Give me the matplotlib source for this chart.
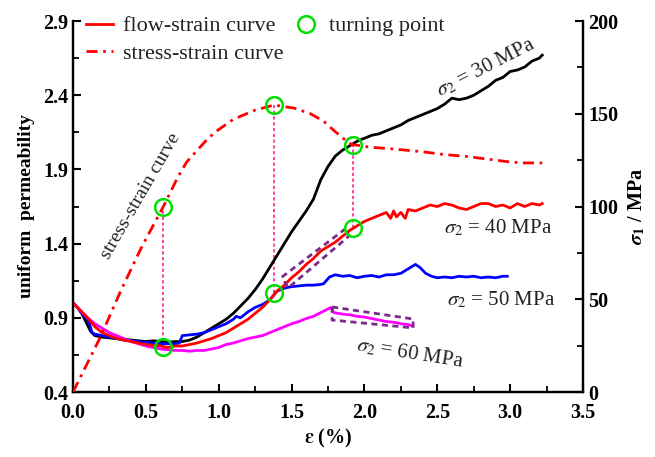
import matplotlib
matplotlib.use("Agg")
import matplotlib.pyplot as plt
from matplotlib.lines import Line2D
from matplotlib.ticker import MultipleLocator, FixedLocator, FormatStrFormatter

plt.rcParams['font.family'] = ['Liberation Serif', 'DejaVu Serif']
plt.rcParams['mathtext.fontset'] = 'stix'

# ---------------- data ----------------
x30 = [0, 0.03, 0.06, 0.09, 0.12, 0.15, 0.2, 0.25, 0.3, 0.35, 0.4, 0.45, 0.5, 0.55, 0.6, 0.65, 0.7,
       0.75, 0.8, 0.85, 0.9, 0.95, 1.0, 1.05, 1.1, 1.15, 1.2, 1.25, 1.3, 1.35, 1.4, 1.45, 1.5, 1.55,
       1.6, 1.65, 1.7, 1.75, 1.8, 1.85, 1.9, 1.95, 2.0, 2.05, 2.1, 2.15, 2.2, 2.25, 2.3, 2.35, 2.4,
       2.45, 2.5, 2.55, 2.6, 2.65, 2.7, 2.75, 2.8, 2.85, 2.9, 2.95, 3.0, 3.05, 3.1, 3.15, 3.2, 3.22]
y30 = [1.0, 0.97, 0.93, 0.87, 0.81, 0.78, 0.77, 0.765, 0.76, 0.755, 0.75, 0.745, 0.74, 0.745, 0.74,
       0.735, 0.74, 0.74, 0.75, 0.77, 0.80, 0.83, 0.86, 0.89, 0.93, 0.98, 1.03, 1.09, 1.16, 1.24,
       1.32, 1.40, 1.48, 1.55, 1.62, 1.70, 1.83, 1.92, 1.99, 2.03, 2.06, 2.09, 2.11, 2.13, 2.14,
       2.16, 2.18, 2.20, 2.23, 2.25, 2.27, 2.29, 2.31, 2.34, 2.38, 2.37, 2.38, 2.40, 2.43, 2.46,
       2.50, 2.52, 2.56, 2.57, 2.59, 2.63, 2.65, 2.67]

x40 = [0, 0.05, 0.1, 0.15, 0.2, 0.25, 0.3, 0.35, 0.4, 0.45, 0.5, 0.55, 0.6, 0.65, 0.7, 0.75, 0.8,
       0.85, 0.9, 0.95, 1.0, 1.05, 1.1, 1.15, 1.2, 1.25, 1.3, 1.35, 1.4, 1.45, 1.5, 1.55, 1.6, 1.65,
       1.7, 1.75, 1.8, 1.85, 1.9, 1.95, 2.0, 2.05, 2.1, 2.15, 2.18, 2.2, 2.22, 2.25, 2.28, 2.3, 2.35,
       2.4, 2.45, 2.5, 2.55, 2.6, 2.65, 2.7, 2.75, 2.8, 2.85, 2.9, 2.95, 3.0, 3.05, 3.1, 3.15, 3.2, 3.22]
y40 = [1.0, 0.95, 0.90, 0.84, 0.80, 0.78, 0.76, 0.75, 0.74, 0.73, 0.72, 0.715, 0.71, 0.70, 0.71,
       0.71, 0.72, 0.73, 0.745, 0.76, 0.78, 0.80, 0.83, 0.86, 0.89, 0.93, 0.97, 1.02, 1.08, 1.12,
       1.17, 1.21, 1.26, 1.30, 1.35, 1.38, 1.41, 1.45, 1.49, 1.52, 1.55, 1.57, 1.59, 1.61, 1.57,
       1.62, 1.58, 1.61, 1.57, 1.63, 1.62, 1.64, 1.66, 1.65, 1.67, 1.66, 1.64, 1.63, 1.65, 1.67,
       1.67, 1.65, 1.66, 1.64, 1.67, 1.65, 1.67, 1.66, 1.67]

x50 = [0, 0.03, 0.06, 0.09, 0.11, 0.13, 0.15, 0.2, 0.25, 0.3, 0.35, 0.4, 0.45, 0.5, 0.55, 0.6, 0.65,
       0.7, 0.73, 0.75, 0.8, 0.85, 0.9, 0.95, 1.0, 1.05, 1.1, 1.12, 1.15, 1.2, 1.25, 1.3, 1.35, 1.4,
       1.45, 1.5, 1.55, 1.6, 1.65, 1.7, 1.72, 1.76, 1.8, 1.85, 1.9, 1.95, 2.0, 2.05, 2.1, 2.15, 2.2,
       2.25, 2.3, 2.35, 2.38, 2.42, 2.46, 2.5, 2.55, 2.6, 2.65, 2.7, 2.75, 2.8, 2.85, 2.9, 2.95, 2.98]
y50 = [1.0, 0.97, 0.93, 0.90, 0.87, 0.80, 0.79, 0.78, 0.77, 0.76, 0.75, 0.745, 0.74, 0.735, 0.73,
       0.725, 0.725, 0.725, 0.73, 0.78, 0.785, 0.79, 0.80, 0.82, 0.84, 0.86, 0.89, 0.91, 0.90, 0.94,
       0.97, 0.99, 1.02, 1.08, 1.10, 1.11, 1.115, 1.12, 1.12, 1.125, 1.13, 1.175, 1.19, 1.18, 1.185,
       1.17, 1.18, 1.185, 1.175, 1.19, 1.19, 1.20, 1.23, 1.26, 1.24, 1.20, 1.18, 1.17, 1.175, 1.17,
       1.18, 1.175, 1.18, 1.17, 1.175, 1.17, 1.18, 1.18]

x60 = [0, 0.05, 0.1, 0.15, 0.2, 0.25, 0.3, 0.35, 0.4, 0.45, 0.5, 0.55, 0.6, 0.65, 0.7, 0.75, 0.8,
       0.85, 0.9, 0.95, 1.0, 1.05, 1.1, 1.15, 1.2, 1.25, 1.3, 1.35, 1.4, 1.45, 1.5, 1.55, 1.6, 1.65,
       1.7, 1.75, 1.77, 1.79, 1.85, 1.9, 1.95, 2.0, 2.05, 2.1, 2.15, 2.2, 2.25, 2.3, 2.33]
y60 = [1.0, 0.95, 0.90, 0.86, 0.83, 0.80, 0.78, 0.76, 0.74, 0.725, 0.71, 0.70, 0.69, 0.685, 0.68,
       0.68, 0.675, 0.68, 0.68, 0.69, 0.70, 0.72, 0.73, 0.745, 0.76, 0.77, 0.78, 0.80, 0.82, 0.84,
       0.86, 0.875, 0.895, 0.91, 0.935, 0.96, 0.97, 0.935, 0.925, 0.92, 0.91, 0.905, 0.895, 0.885,
       0.875, 0.87, 0.86, 0.855, 0.845]

x_ss = [0, 0.19, 0.33, 0.47, 0.62, 0.72, 0.78, 0.86, 0.93, 1.0, 1.1, 1.25, 1.38, 1.52, 1.63, 1.72,
        1.79, 1.85, 1.91, 2.04, 2.2, 2.4, 2.55, 2.7, 2.85, 3.0, 3.1, 3.22]
s_ss = [0, 30, 55, 78, 100, 116, 124, 131, 137, 141.5, 147, 152, 154.7, 153, 150, 146,
        141, 137, 133.5, 132, 131, 129.5, 128, 127, 125.5, 124, 123.5, 123.5]

tp_strain = [0.62, 1.38, 1.92]
tp_stress = [100, 154.7, 133]
tp_flow = [0.70, 1.07, 1.505]

box1_x = [1.434, 1.867, 1.894, 1.476, 1.434]
box1_y = [1.175, 1.498, 1.451, 1.101, 1.175]
box2_x = [1.778, 2.334, 2.334, 1.778, 1.778]
box2_y = [0.973, 0.892, 0.832, 0.885, 0.973]

yticks_left = [0.4, 0.9, 1.4, 1.9, 2.4, 2.9]
yticks_left_minor = [0.65, 1.15, 1.65, 2.15, 2.65]

# ---------------- figure ----------------
fig = plt.figure(figsize=(6.55, 4.57), dpi=100)
ax = fig.add_axes([0.1115, 0.1422, 0.7786, 0.8118])
ax2 = ax.twinx()

ax.set_xlim(0, 3.5)
ax.set_ylim(0.4, 2.9)
ax2.set_ylim(0, 200)

lw = 2.0
ax.plot(x30, y30, color='black', lw=lw, zorder=3)
ax.plot(x50, y50, color='#0000FF', lw=lw, zorder=3)
ax.plot(x60, y60, color='#FF00FF', lw=lw, zorder=3)
ax.plot(x40, y40, color='#FF0000', lw=lw, zorder=4)

ax2.plot(x_ss, s_ss, color='#FF0000', lw=lw, dashes=(4, 2, 1, 2), zorder=3)

# dashed purple boxes
ax.plot(box1_x, box1_y, color='#7B2A8C', lw=2, dashes=(2.2, 1.6), zorder=5)
ax.plot(box2_x, box2_y, color='#7B2A8C', lw=2, dashes=(2.2, 1.6), zorder=5)

# vertical connectors (flow point -> stress point)
for xs, sf, ss in zip(tp_strain, tp_flow, tp_stress):
    disp = ax2.transData.transform((xs, ss))
    ytop = ax.transData.inverted().transform(disp)[1]
    ax.plot([xs, xs], [sf, ytop], color='#FF3399', lw=1.3, dashes=(1.8, 1.4), zorder=2)

# turning points
ax.plot(tp_strain, tp_flow, 'o', ms=12, mfc='none', mec='#00E000', mew=1.8, zorder=6)
ax2.plot(tp_strain, tp_stress, 'o', ms=12, mfc='none', mec='#00E000', mew=1.8, zorder=6)

# ticks and spines
ax.xaxis.set_major_locator(MultipleLocator(0.5))
ax.xaxis.set_minor_locator(MultipleLocator(0.25))
ax.yaxis.set_major_locator(FixedLocator(yticks_left))
ax.yaxis.set_minor_locator(FixedLocator(yticks_left_minor))
ax2.yaxis.set_major_locator(MultipleLocator(50))
ax2.yaxis.set_minor_locator(MultipleLocator(25))
ax.xaxis.set_major_formatter(FormatStrFormatter('%.1f'))
ax.yaxis.set_major_formatter(FormatStrFormatter('%.1f'))

for a in (ax, ax2):
    a.spines['top'].set_visible(False)
    for s in a.spines.values():
        s.set_linewidth(1.6)
    a.tick_params(which='major', direction='in', length=6, width=1.5, labelsize=14.5)
    a.tick_params(which='minor', direction='in', length=4, width=1.3)
ax.tick_params(axis='y', which='both', right=False)
ax.tick_params(axis='x', which='both', top=False, pad=8)
for lab in ax.get_xticklabels() + ax.get_yticklabels() + ax2.get_yticklabels():
    lab.set_fontweight('bold')

ax.set_xlabel(r'$\boldsymbol{\varepsilon}$ (%)', fontsize=14.5, fontweight='bold', labelpad=3)
ax.set_ylabel('uniform  permeability', fontsize=14, fontweight='bold', labelpad=6)
ax2.set_ylabel(r'$\boldsymbol{\sigma}_\mathbf{1}$ / MPa', fontsize=14.5, fontweight='bold',
               rotation=90, labelpad=6)

# annotations
tc = '#222222'
ax.text(0.467, 1.72, 'stress-strain curve', rotation=60, fontsize=14, color=tc,
        ha='center', va='center')
ax.text(2.83, 2.59, r'$\sigma_2$ = 30 MPa', rotation=27, fontsize=15, color=tc,
        ha='center', va='center')
ax.text(2.92, 1.505, r'$\sigma_2$ = 40 MPa', fontsize=15, color=tc, ha='center', va='center')
ax.text(2.94, 1.02, r'$\sigma_2$ = 50 MPa', fontsize=15, color=tc, ha='center', va='center')
ax.text(2.31, 0.656, r'$\sigma_2$ = 60 MPa', rotation=-9, fontsize=15, color=tc,
        ha='center', va='center')

# legend
handles = [Line2D([], [], color='#FF0000', lw=2),
           Line2D([], [], color='#FF0000', lw=2, dashes=(4, 2, 1, 2)),
           Line2D([], [], ls='none', marker='o', ms=12, mfc='none', mec='#00E000', mew=1.8)]
labels = ['flow-strain curve', 'stress-strain curve', 'turning point']
leg = ax.legend(handles, labels, loc='upper left', bbox_to_anchor=(0.0, 1.05), ncol=2,
                frameon=False, fontsize=16, handlelength=1.2, handletextpad=0.45,
                columnspacing=0.4, labelspacing=0.3, borderaxespad=0.2)
for t in leg.get_texts():
    t.set_color(tc)

fig.savefig('out.png', dpi=100)
